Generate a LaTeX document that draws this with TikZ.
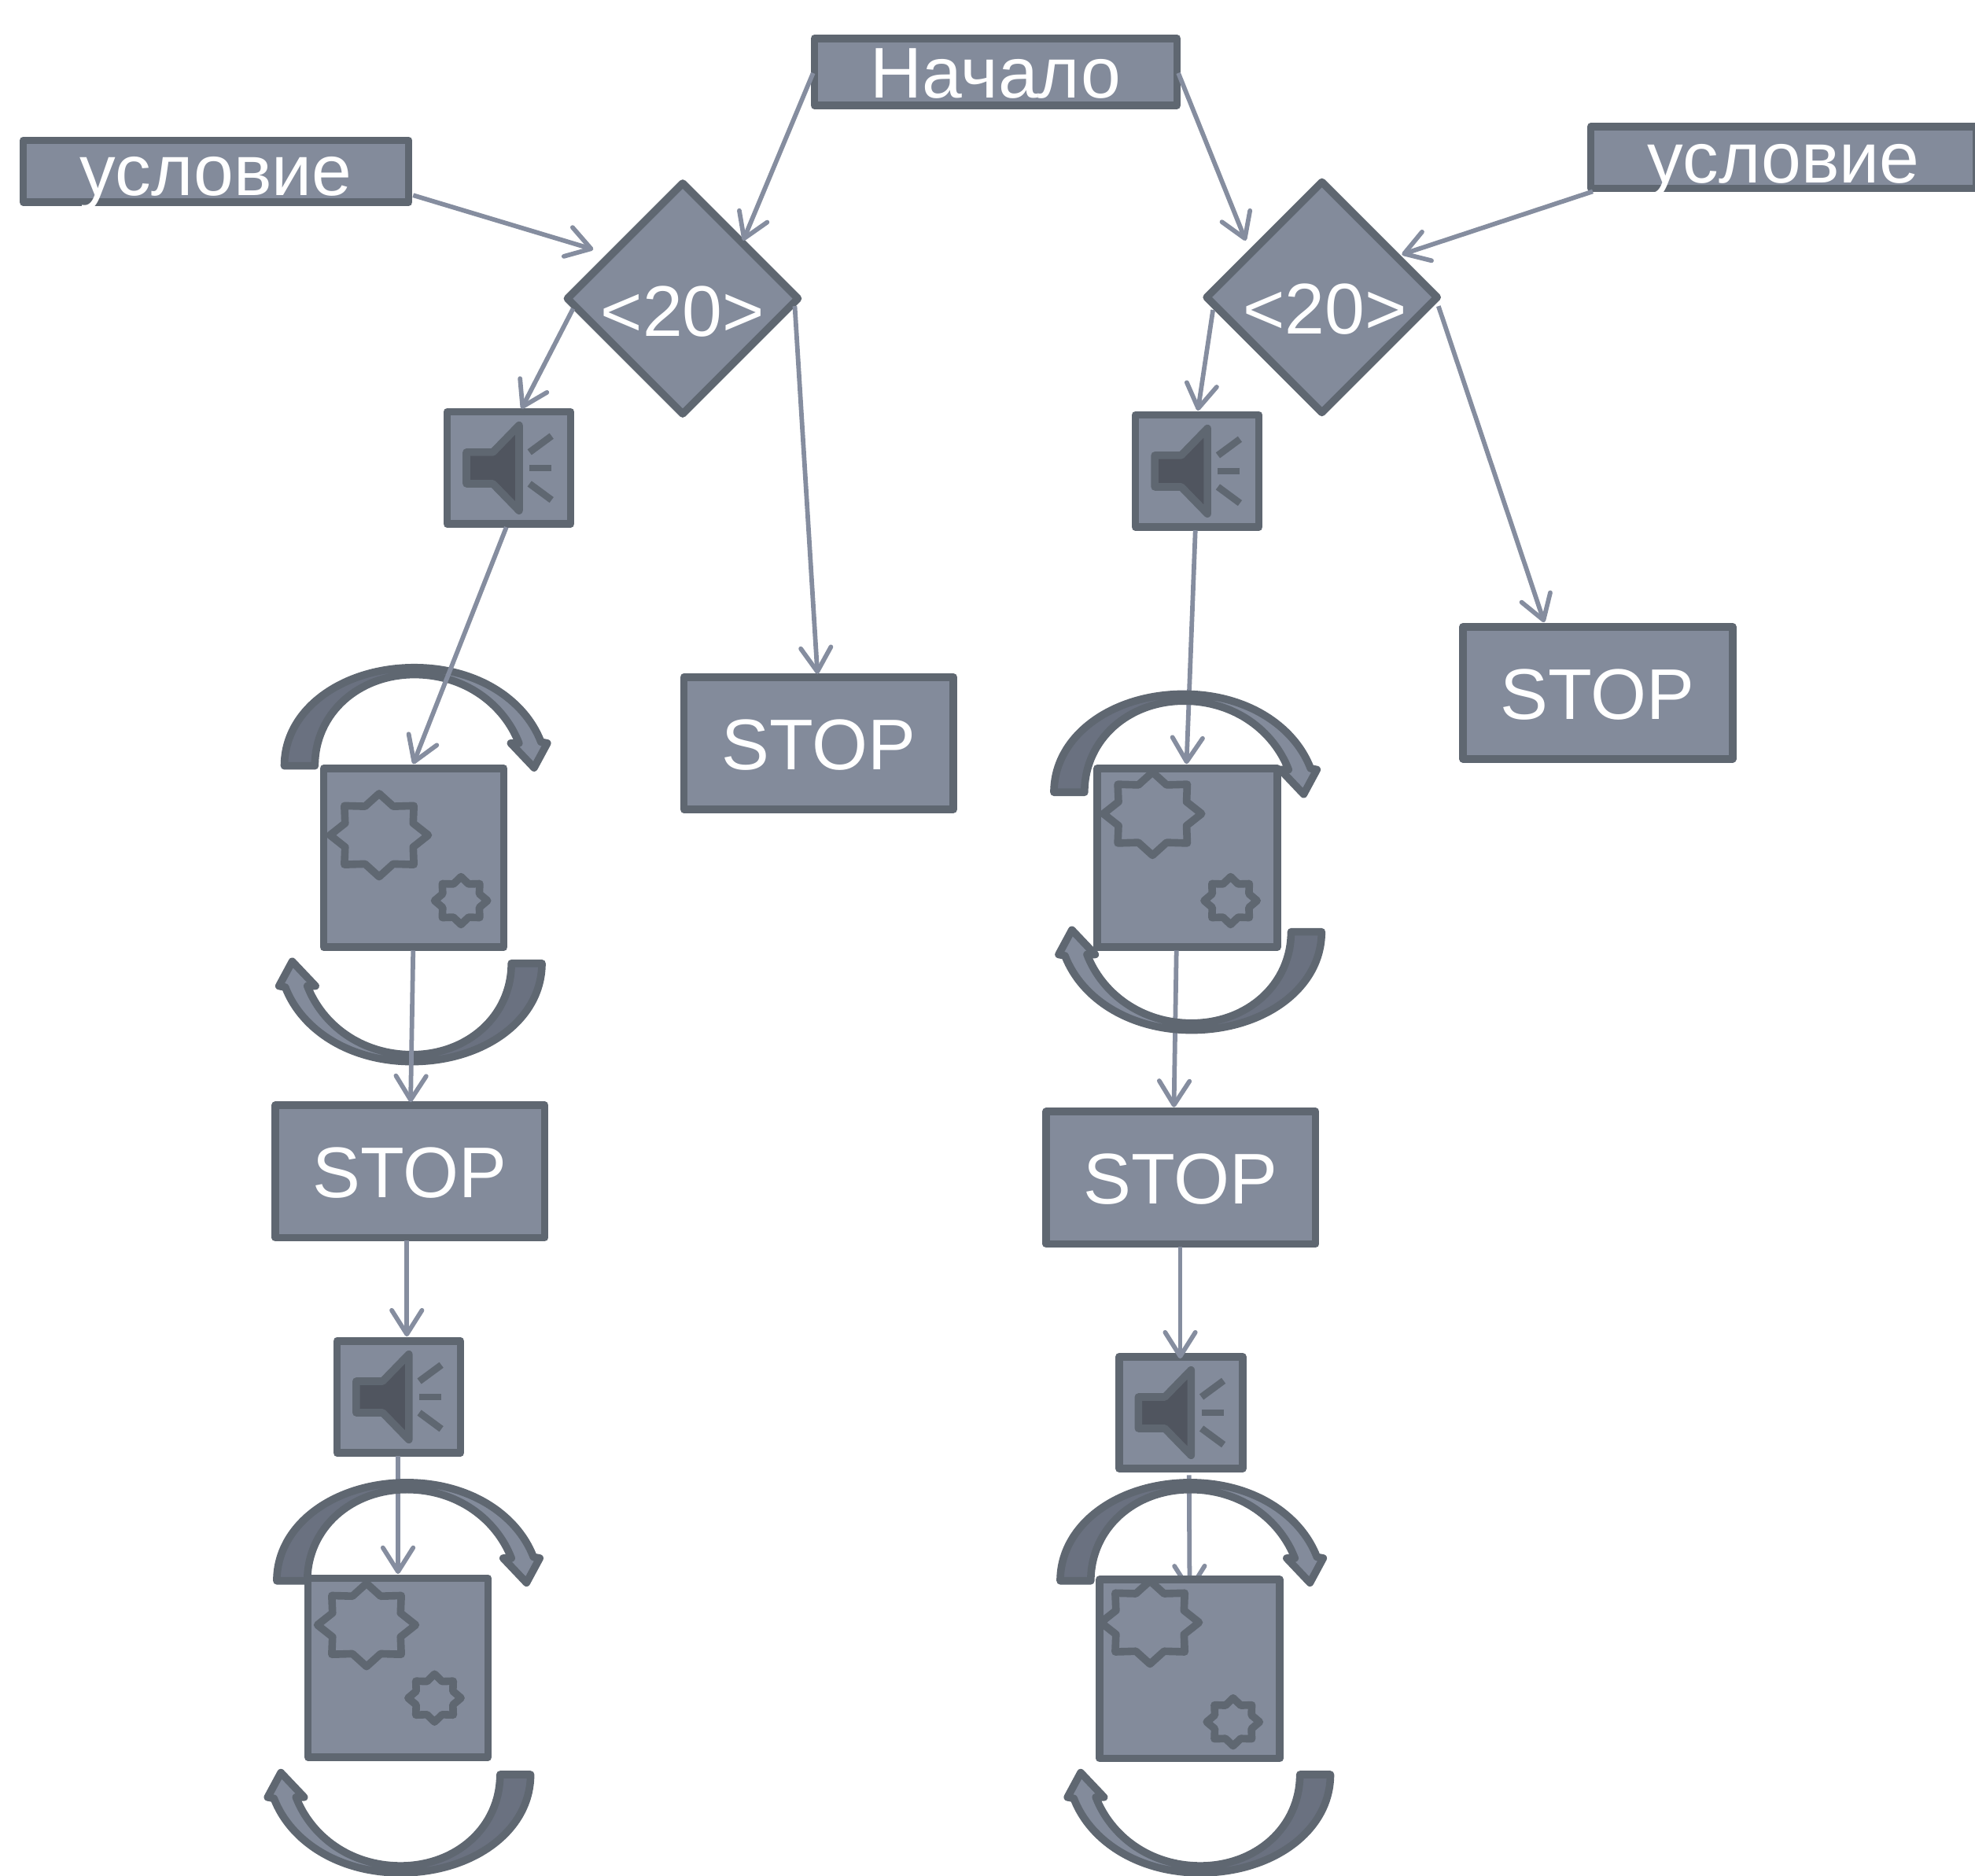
\documentclass[tikz,border=0pt]{standalone}
\usepackage{fontspec}
\setmainfont{Liberation Sans}
\usetikzlibrary{shapes.geometric,arrows.meta,calc,backgrounds}
\definecolor{boxfill}{HTML}{838B9B}
\definecolor{boxline}{HTML}{5F6771}
\definecolor{connline}{HTML}{858D9F}
\definecolor{foldfill}{HTML}{6A7180}
\definecolor{hornfill}{HTML}{50555F}
\newcommand{\boxlabel}[2]{\smash{\raisebox{-#1pt}{#2}}}
\newcommand{\bentarrow}[3]{%
  \begin{scope}[shift={(#1,#2)},rotate=#3]
    \fill[boxfill] (-1,-151) .. controls (48,-151) and (87,-127) .. (100.5,-92) -- (105.5,-91) -- (95,-71.5) -- (76.5,-91) -- (83,-91) .. controls (71,-122) and (40,-145.5) .. (-1,-145.5) -- cycle;
    \fill[foldfill] (-103.25,-73) .. controls (-103.25,-118) and (-57,-151) .. (0,-151) -- (0,-145.5) .. controls (-44,-145.5) and (-79,-115) .. (-79,-73) -- cycle;
    \draw[curveline] (-103.25,-73) .. controls (-103.25,-118) and (-57,-151) .. (0,-151) .. controls (48,-151) and (87,-127) .. (100.5,-92) -- (105.5,-91) -- (95,-71.5) -- (76.5,-91) -- (83,-91) .. controls (71,-122) and (40,-145.5) .. (0,-145.5) .. controls (-44,-145.5) and (-79,-115) .. (-79,-73) -- cycle;
  \end{scope}}
\newcommand{\gearstar}[4]{%
  \draw[shapeline,shift={(#1,#2)},xscale=#3,yscale=#4] (0:1) -- (22.5:.75) -- (45:1) -- (67.5:.75) -- (90:1) -- (112.5:.75) -- (135:1) -- (157.5:.75) -- (180:1) -- (202.5:.75) -- (225:1) -- (247.5:.75) -- (270:1) -- (292.5:.75) -- (315:1) -- (337.5:.75) -- cycle;}
\newcommand{\hornglyph}[1]{%
  \begin{scope}[shift={(#1.center)}]
    \draw[shapeline,fill=hornfill] (-33.7,-12.5) -- (-12.7,-12.5) -- (8.1,-33.9) -- (8.1,33.9) -- (-12.7,12.5) -- (-33.7,12.5) -- cycle;
    \draw[rayline] (16.4,-12.5) -- (33.9,-25.4);
    \draw[rayline] (16.4,0) -- (33.9,0);
    \draw[rayline] (16.4,12.5) -- (33.9,25.4);
  \end{scope}}
\tikzset{
  shapeline/.style={draw=boxline,line width=6pt,line join=round},
  curveline/.style={draw=boxline,line width=6pt,line join=round},
  rayline/.style={draw=boxline,line width=5.5pt},
  panel/.style={rectangle,draw=boxline,fill=boxfill,line width=6pt,line join=round,inner sep=0pt,outer sep=0pt,text=white,font=\fontsize{57}{60}\selectfont},
  titlebox/.style={panel,minimum width=288pt,minimum height=53pt},
  condbox/.style={panel,minimum width=306pt,minimum height=49pt},
  stopbox/.style={panel,minimum width=214pt,minimum height=105pt},
  gearbox/.style={panel,minimum width=143pt,minimum height=142pt},
  hornbox/.style={panel,minimum width=98pt,minimum height=89pt},
  testbox/.style={panel,diamond,aspect=1,minimum width=183pt,minimum height=183pt},
  conn/.style={draw=connline,line width=3.6pt,-{Straight Barb[length=19pt,width=24pt,line width=3.6pt,round]}}
}
\begin{document}
\begin{tikzpicture}[x=1pt,y=-1pt]
\clip (0,0) rectangle (1568,1489.3);
% nodes
\node[titlebox] (start) at (790.5,57) {\boxlabel{21}{Начало}};
\node[condbox] (condL) at (171.5,136) {\boxlabel{19}{условие}};
\node[condbox] (condR) at (1416,125) {\boxlabel{20}{условие}};
\node[testbox] (dL) at (542,237) {\boxlabel{30}{<20>}};
\node[testbox] (dR) at (1049.5,236) {\boxlabel{29}{\hspace{5pt}<20>}};
\node[hornbox] (sL1) at (404,371.5) {};
\node[hornbox] (sR1) at (950.5,374) {};
\node[hornbox] (sL2) at (316.5,1109) {};
\node[hornbox] (sR2) at (937.5,1121.5) {};
\node[stopbox] (stopA) at (650,590) {\boxlabel{21}{STOP}};
\node[stopbox] (stopB) at (1268.5,550) {\boxlabel{21}{STOP}};
\node[stopbox] (stopC) at (325.5,930) {\boxlabel{21}{STOP}};
\node[stopbox] (stopD) at (937.5,935) {\boxlabel{21}{STOP}};
\node[gearbox] (gL1) at (328.5,681) {};
\node[gearbox] (gR1) at (942.5,681) {};
\node[gearbox] (gL2) at (316,1324) {};
\node[gearbox] (gR2) at (944.5,1325) {};
% glyphs inside the boxes
\hornglyph{sL1}
\hornglyph{sR1}
\hornglyph{sL2}
\hornglyph{sR2}
\gearstar{301}{663}{39}{33}
\gearstar{366}{715}{21}{19}
\gearstar{915}{646}{39}{33}
\gearstar{977}{715}{21}{19}
\gearstar{291}{1290}{39}{33}
\gearstar{345}{1348}{21}{19}
\gearstar{913}{1288}{39}{33}
\gearstar{979}{1367}{21}{19}
% connector hidden by its target box
\begin{scope}[on background layer]
\draw[conn] ($(sR2.south)+(6.5,5)$) -- ($(gR2.north)+(0,10)$);
\end{scope}
% connectors
\draw[conn] ($(start.west)+(-1,1)$) -- ($(dL.center)+(48,-46)$);
\draw[conn] ($(start.east)+(1,1)$) -- ($(dR.center)+(-60.5,-45)$);
\draw[conn] ($(condL.east)+(3.5,19)$) -- ($(dL.center)+(-71,-39)$);
\draw[conn] ($(condR.west)+(1.5,27)$) -- ($(dR.center)+(63.5,-34)$);
\draw[conn] ($(dL.center)+(-87,8)$) -- ($(sL1.north)+(10,-2.5)$);
\draw[conn] ($(dL.center)+(89,6)$) -- ($(stopA.north)+(-1,-2.5)$);
\draw[conn] ($(dR.center)+(-86.5,10)$) -- ($(sR1.north)+(.5,-3.5)$);
\draw[conn] ($(dR.center)+(92.5,7)$) -- ($(stopB.north)+(-42.5,-3.5)$);
\draw[conn] ($(stopC.south)+(-2.5,2.5)$) -- ($(sL2.north)+(6.5,-3.5)$);
\draw[conn] ($(sL2.south)+(-.5,2.5)$) -- ($(gL2.north)+(0,-3.5)$);
\draw[conn] ($(sR1.south)+(-1.5,2.5)$) -- ($(gR1.north)+(-.5,-3.5)$);
\draw[conn] ($(gR1.south)+(-8.5,2.5)$) -- ($(stopD.north)+(-5.5,-3.5)$);
\draw[conn] ($(stopD.south)+(-.5,2.5)$) -- ($(sR2.north)+(-.5,1.5)$);
% curved arrows
\bentarrow{329}{681}{0}
\bentarrow{327}{691.75}{180}
\bentarrow{940}{702}{0}
\bentarrow{946}{666.75}{180}
\bentarrow{323}{1328}{0}
\bentarrow{318}{1335.75}{180}
\bentarrow{945}{1328}{0}
\bentarrow{953}{1335.75}{180}
% connectors lying over the curved arrows
\draw[conn] ($(sL1.south)+(-2,2.5)$) -- ($(gL1.north)+(-.5,-3.5)$);
\draw[conn] ($(gL1.south)+(-.5,2.5)$) -- ($(stopC.north)+(.5,-2.5)$);
\end{tikzpicture}
\end{document}
